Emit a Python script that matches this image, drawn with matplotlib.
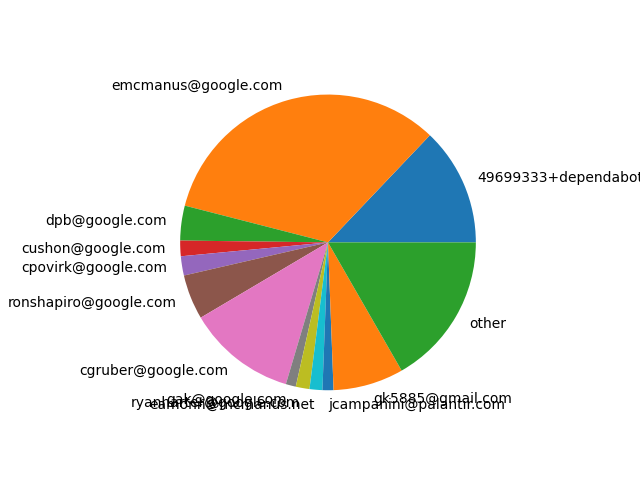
import matplotlib
matplotlib.use("Agg")
import matplotlib.pyplot as plt

labels = [
    "49699333+dependabot[bot]@users.noreply.github.com",
    "emcmanus@google.com",
    "dpb@google.com",
    "cushon@google.com",
    "cpovirk@google.com",
    "ronshapiro@google.com",
    "cgruber@google.com",
    "gak@google.com",
    "ryanharter@google.com",
    "eamonn@mcmanus.net",
    "jcampanini@palantir.com",
    "gk5885@gmail.com",
    "other",
]
values = [12.9, 33.1, 3.8, 1.7, 2.1, 4.9, 11.9, 1.1, 1.5, 1.4, 1.2, 7.7, 16.7]

fig, ax = plt.subplots(figsize=(6.4, 4.8), dpi=100)
ax.pie(values, labels=labels)
fig.savefig("out.png")
